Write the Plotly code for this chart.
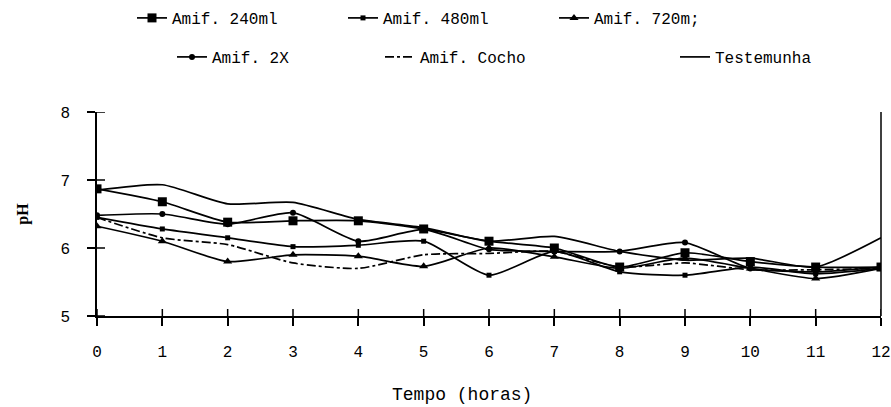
import plotly.graph_objects as go

tempo = list(range(13))
ph_ticks = [5, 6, 7, 8]
amif_240 = [6.87, 6.68, 6.38, 6.40, 6.40, 6.28, 6.10, 6.00, 5.72, 5.93, 5.80, 5.72, 5.72]
amif_480 = [6.45, 6.28, 6.15, 6.02, 6.04, 6.10, 5.60, 5.95, 5.65, 5.60, 5.72, 5.62, 5.70]
amif_720 = [6.32, 6.10, 5.80, 5.90, 5.88, 5.73, 6.00, 5.87, 5.70, 5.85, 5.70, 5.55, 5.70]
amif_2x = [6.48, 6.50, 6.35, 6.52, 6.10, 6.27, 5.98, 5.95, 5.95, 6.08, 5.70, 5.65, 5.72]
amif_cocho = [6.45, 6.15, 6.05, 5.78, 5.70, 5.90, 5.92, 5.95, 5.72, 5.78, 5.68, 5.68, 5.70]
testemunha = [6.85, 6.93, 6.65, 6.67, 6.42, 6.30, 6.10, 6.17, 5.95, 5.82, 5.85, 5.72, 6.15]

names = ["Amif. 240ml", "Amif. 480ml", "Amif. 720m;", "Amif. 2X", "Amif. Cocho", "Testemunha"]
series = [amif_240, amif_480, amif_720, amif_2x, amif_cocho, testemunha]
symbols = ["square", "square", "triangle-up", "circle", None, None]
sizes = [9, 5, 8, 6, 0, 0]
dashes = ["solid", "solid", "solid", "solid", "dashdot", "solid"]
legends = ["legend", "legend", "legend", "legend2", "legend2", "legend3"]

FONT = "Liberation Mono, Courier New, monospace"
X_RANGE = [0, 12]
Y_RANGE = [5, 8]

fig = go.Figure()
for n, s, sym, sz, d, lg in zip(names, series, symbols, sizes, dashes, legends):
    fig.add_trace(go.Scatter(
        x=tempo, y=s, name=n, legend=lg,
        mode="lines+markers" if sym else "lines",
        line=dict(color="black", width=1.7, dash=d, shape="spline", smoothing=0.6),
        marker=dict(symbol=sym or "circle", size=sz, color="black"),
    ))

leg_common = dict(orientation="h", yanchor="middle", xanchor="left",
                  yref="container", xref="container",
                  font=dict(family=FONT, size=16),
                  bgcolor="rgba(0,0,0,0)", itemclick=False)

fig.update_layout(
    width=891, height=407,
    margin=dict(l=97, r=10, t=112, b=91, autoexpand=False),
    paper_bgcolor="white", plot_bgcolor="white",
    font=dict(family=FONT, size=16, color="black"),
    showlegend=True,
    legend=dict(x=132 / 891, y=1 - 18 / 407, entrywidth=166, **leg_common),
    legend2=dict(x=172 / 891, y=1 - 57 / 407, entrywidth=163, **leg_common),
    legend3=dict(x=675 / 891, y=1 - 57 / 407, **leg_common),
    xaxis=dict(range=X_RANGE, tickmode="array", tickvals=tempo, ticks="outside", ticklen=8,
               tickwidth=1.5, tickcolor="black", showline=True, linecolor="black",
               linewidth=1.5, showgrid=False, zeroline=False, ticklabelstandoff=12,
               automargin=False, tickfont=dict(family=FONT, size=16)),
    yaxis=dict(range=Y_RANGE, tickmode="array", tickvals=ph_ticks, ticks="outside", ticklen=8,
               tickwidth=1.5, tickcolor="black", showline=True, linecolor="black",
               linewidth=1.5, showgrid=False, zeroline=False, ticklabelstandoff=14,
               automargin=False,
               title=dict(text="<b>pH</b>", font=dict(family="Liberation Serif, serif", size=16), standoff=28),
               tickfont=dict(family=FONT, size=16)),
)

# x-axis title placed as in the reference (slightly left of the plot centre)
fig.add_annotation(text="Tempo (horas)", xref="paper", yref="paper", x=0.465, y=-0.385,
                   xanchor="center", yanchor="middle", showarrow=False,
                   font=dict(family=FONT, size=18))

# inner halves of the crossing tick marks (about 7 px), placed at the tick values
x_in = (X_RANGE[1] - X_RANGE[0]) * 8 / 784
y_in = (Y_RANGE[1] - Y_RANGE[0]) * 7 / 204
for t in tempo:
    fig.add_shape(type="line", xref="x", yref="y", x0=t, x1=t,
                  y0=Y_RANGE[0], y1=Y_RANGE[0] + y_in,
                  line=dict(color="black", width=1.5), layer="above")
for v in ph_ticks:
    fig.add_shape(type="line", xref="x", yref="y", y0=v, y1=v,
                  x0=X_RANGE[0], x1=X_RANGE[0] + x_in,
                  line=dict(color="black", width=1.5), layer="above")

fig.add_shape(type="line", xref="paper", yref="paper", x0=1, x1=1, y0=0, y1=1,
              line=dict(color="black", width=1.5))

fig.write_html("out.html", post_script="document.body.style.margin='0';",
               config={"displayModeBar": False})
